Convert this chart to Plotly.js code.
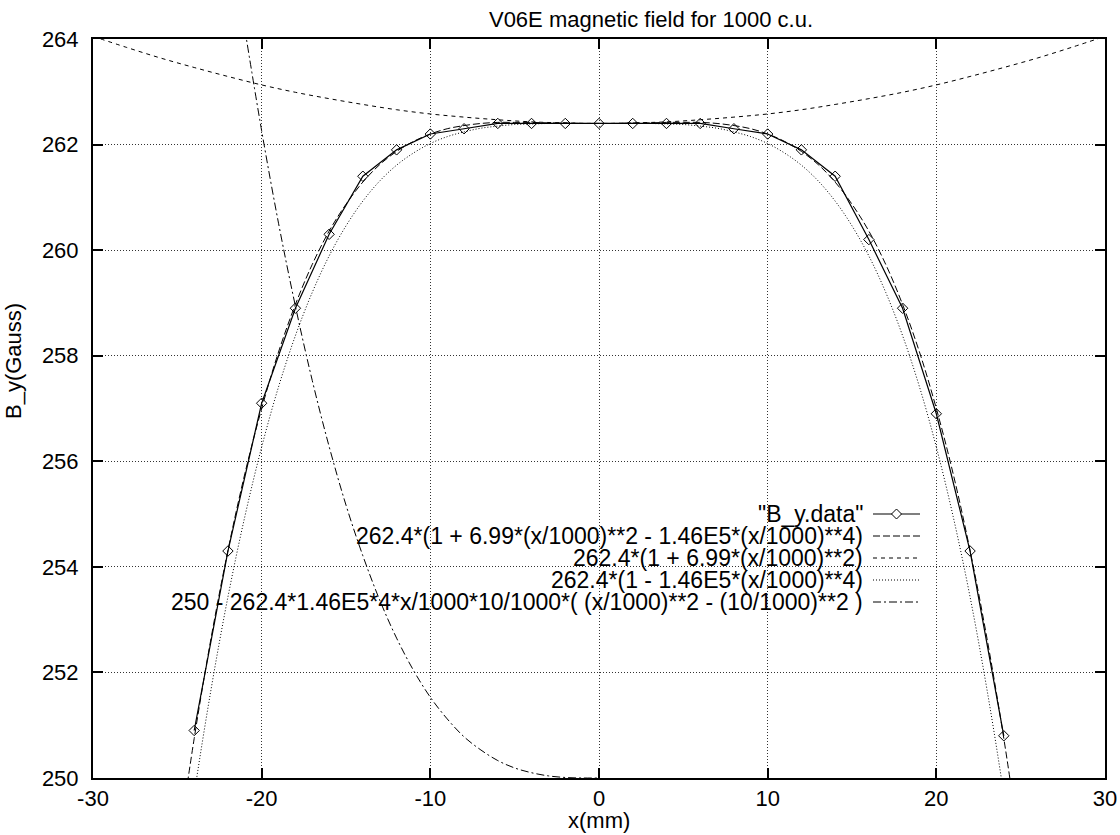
<!DOCTYPE html>
<html>
<head>
<meta charset="utf-8">
<script src="https://cdn.plot.ly/plotly-3.0.1.min.js"></script>
<style>html,body{margin:0;padding:0;background:#fff;}#chart{width:1120px;height:835px;}</style>
</head>
<body>
<div id="chart"></div>
<script>
// Measured data points "B_y.data"
const dataX = [-24,-22,-20,-18,-16,-14,-12,-10,-8,-6,-4,-2,0,2,4,6,8,10,12,14,16,18,20,22,24];
const dataY = [250.9,254.3,257.1,258.9,260.3,261.4,261.9,262.2,262.3,262.4,262.4,262.4,262.4,262.4,262.4,262.4,262.3,262.2,261.9,261.4,260.2,258.9,256.9,254.3,250.8];

// Curve 1: 262.4*(1 + 6.99*(x/1000)**2 - 1.46E5*(x/1000)**4)
const fitX = [-25,-24,-23,-22,-21,-20,-19,-18,-17,-16,-15,-14,-13,-12,-11,-10,-9,-8,-7,-6,-5,-4,-3,-2,-1,0,1,2,3,4,5,6,7,8,9,10,11,12,13,14,15,16,17,18,19,20,21,22,23,24,25];
const fullFitY = [248.58,250.75,252.65,254.31,255.76,257.00,258.07,258.97,259.73,260.36,260.87,261.29,261.62,261.87,262.06,262.20,262.30,262.36,262.40,262.42,262.42,262.42,262.41,262.41,262.40,262.40,262.40,262.41,262.41,262.42,262.42,262.42,262.40,262.36,262.30,262.20,262.06,261.87,261.62,261.29,260.87,260.36,259.73,258.97,258.07,257.00,255.76,254.31,252.65,250.75,248.58];

// Curve 2: 262.4*(1 + 6.99*(x/1000)**2)
const quadX = [-30,-28,-26,-24,-22,-20,-18,-16,-14,-12,-10,-8,-6,-4,-2,0,2,4,6,8,10,12,14,16,18,20,22,24,26,28,30];
const quadY = [264.05,263.84,263.64,263.46,263.29,263.13,262.99,262.87,262.76,262.66,262.58,262.52,262.47,262.43,262.41,262.40,262.41,262.43,262.47,262.52,262.58,262.66,262.76,262.87,262.99,263.13,263.29,263.46,263.64,263.84,264.05];

// Curve 3: 262.4*(1 - 1.46E5*(x/1000)**4)
const quartX = fitX;
const quartY = [247.43,249.69,251.68,253.43,254.95,256.27,257.41,258.38,259.20,259.89,260.46,260.93,261.31,261.61,261.84,262.02,262.15,262.24,262.31,262.35,262.38,262.39,262.40,262.40,262.40,262.40,262.40,262.40,262.40,262.39,262.38,262.35,262.31,262.24,262.15,262.02,261.84,261.61,261.31,260.93,260.46,259.89,259.20,258.38,257.41,256.27,254.95,253.43,251.68,249.69,247.43];

// Curve 4: 250 - 262.4*1.46E5*4*x/1000*10/1000*( (x/1000)**2 - (10/1000)**2 )
const cubX = [-21,-20,-19,-18,-17,-16,-15,-14,-13,-12,-11,-10,-9,-8,-7,-6,-5,-4,-3,-2,-1,0];
const cubY = [264.19,262.26,260.51,258.94,257.53,256.28,255.17,254.21,253.37,252.65,252.04,251.53,251.12,250.78,250.53,250.33,250.19,250.10,250.04,250.01,250.00,250.00];

// tick labels (plain hyphen minus, as in the reference)
const xTickVals = [-30,-20,-10,0,10,20,30];
const xTickText = ['-30','-20','-10','0','10','20','30'];
const yTickVals = [250,252,254,256,258,260,262,264];
const yTickText = ['250','252','254','256','258','260','262','264'];

const legendLabels = [
  '"B_y.data"',
  '262.4*(1 + 6.99*(x/1000)**2 - 1.46E5*(x/1000)**4)',
  '262.4*(1 + 6.99*(x/1000)**2)',
  '262.4*(1 - 1.46E5*(x/1000)**4)',
  '250 - 262.4*1.46E5*4*x/1000*10/1000*( (x/1000)**2 - (10/1000)**2 )'
];
const titleText = 'V06E magnetic field for 1000 c.u.';
const xTitle = 'x(mm)';
const yTitle = 'B_y(Gauss)';

const FONT = '"Liberation Sans", Arial, Helvetica, sans-serif';
const dashes = [null, '7px,3px', '4px,4px', '1px,2px', '8px,3px,2px,3px'];

const traces = [
  {x: dataX, y: dataY, mode: 'lines+markers', type: 'scatter',
   line: {color: '#000', width: 1.2},
   marker: {symbol: 'diamond-open', size: 8, color: '#000', line: {width: 1, color: '#000'}}},
  {x: fitX, y: fullFitY, mode: 'lines', line: {color: '#000', width: 1, dash: dashes[1], shape: 'spline'}},
  {x: quadX, y: quadY, mode: 'lines', line: {color: '#000', width: 1, dash: dashes[2], shape: 'spline'}},
  {x: quartX, y: quartY, mode: 'lines', line: {color: '#000', width: 1, dash: dashes[3], shape: 'spline'}},
  {x: cubX, y: cubY, mode: 'lines', line: {color: '#000', width: 1, dash: dashes[4], shape: 'spline'}}
];

// legend drawn gnuplot-style: right-aligned text with sample on the right
const plotL = 93, plotR = 1105, plotT = 39, plotB = 778;
const pw = plotR - plotL, ph = plotB - plotT;
const rowY = [514, 536, 558, 580, 602];
const textRight = 865, sampleL = 873, sampleR = 920;
const px = v => (v - plotL) / pw;
const py = v => (plotB - v) / ph;

const annotations = legendLabels.map((t, i) => ({
  text: t, xref: 'paper', yref: 'paper', x: px(textRight), y: py(rowY[i]),
  xanchor: 'right', yanchor: 'middle', showarrow: false,
  font: {family: FONT, size: 23, color: '#000'}
}));
// axis titles placed like the reference
annotations.push({
  text: xTitle, xref: 'paper', yref: 'paper', x: px(599), y: py(820),
  xanchor: 'center', yanchor: 'middle', showarrow: false,
  font: {family: FONT, size: 22, color: '#000'}
});
annotations.push({
  text: yTitle, xref: 'paper', yref: 'paper', x: px(13), y: py(361), textangle: -90,
  xanchor: 'center', yanchor: 'middle', showarrow: false,
  font: {family: FONT, size: 22, color: '#000'}
});

const shapes = legendLabels.map((t, i) => ({
  type: 'line', xref: 'paper', yref: 'paper',
  x0: px(sampleL), x1: px(sampleR), y0: py(rowY[i]), y1: py(rowY[i]),
  line: {color: '#000', width: i === 0 ? 1.2 : 1, dash: dashes[i] || 'solid'}
}));
const cx = (sampleL + sampleR) / 2, cy = rowY[0], d = 5;
shapes.push({
  type: 'path', xref: 'paper', yref: 'paper',
  path: `M ${px(cx - d)} ${py(cy)} L ${px(cx)} ${py(cy - d)} L ${px(cx + d)} ${py(cy)} L ${px(cx)} ${py(cy + d)} Z`,
  fillcolor: '#fff', line: {color: '#000', width: 1}
});

const axisCommon = {
  showline: true, linecolor: '#000', linewidth: 2, mirror: 'ticks',
  ticks: 'inside', ticklen: 10, tickwidth: 2, tickcolor: '#000',
  showgrid: true, gridcolor: '#333', gridwidth: 1, griddash: '1px,2px',
  zeroline: false, tickfont: {family: FONT, size: 22, color: '#000'}
};

const layout = {
  width: 1120, height: 835,
  margin: {l: plotL, r: 1120 - plotR, t: plotT, b: 835 - plotB},
  paper_bgcolor: '#fff', plot_bgcolor: '#fff',
  showlegend: false,
  font: {family: FONT, size: 22, color: '#000'},
  title: {text: titleText, font: {family: FONT, size: 22, color: '#000'},
          xref: 'container', yref: 'container', x: 651 / 1120, xanchor: 'center',
          y: 1 - 19 / 835, yanchor: 'middle'},
  xaxis: Object.assign({}, axisCommon, {range: [-30, 30], tickmode: 'array',
          tickvals: xTickVals, ticktext: xTickText, ticklabelstandoff: 0}),
  yaxis: Object.assign({}, axisCommon, {range: [250, 264], tickmode: 'array',
          tickvals: yTickVals, ticktext: yTickText, ticklabelstandoff: 8}),
  annotations: annotations,
  shapes: shapes
};

Plotly.newPlot('chart', traces, layout, {displayModeBar: false, staticPlot: true});
</script>
</body>
</html>
